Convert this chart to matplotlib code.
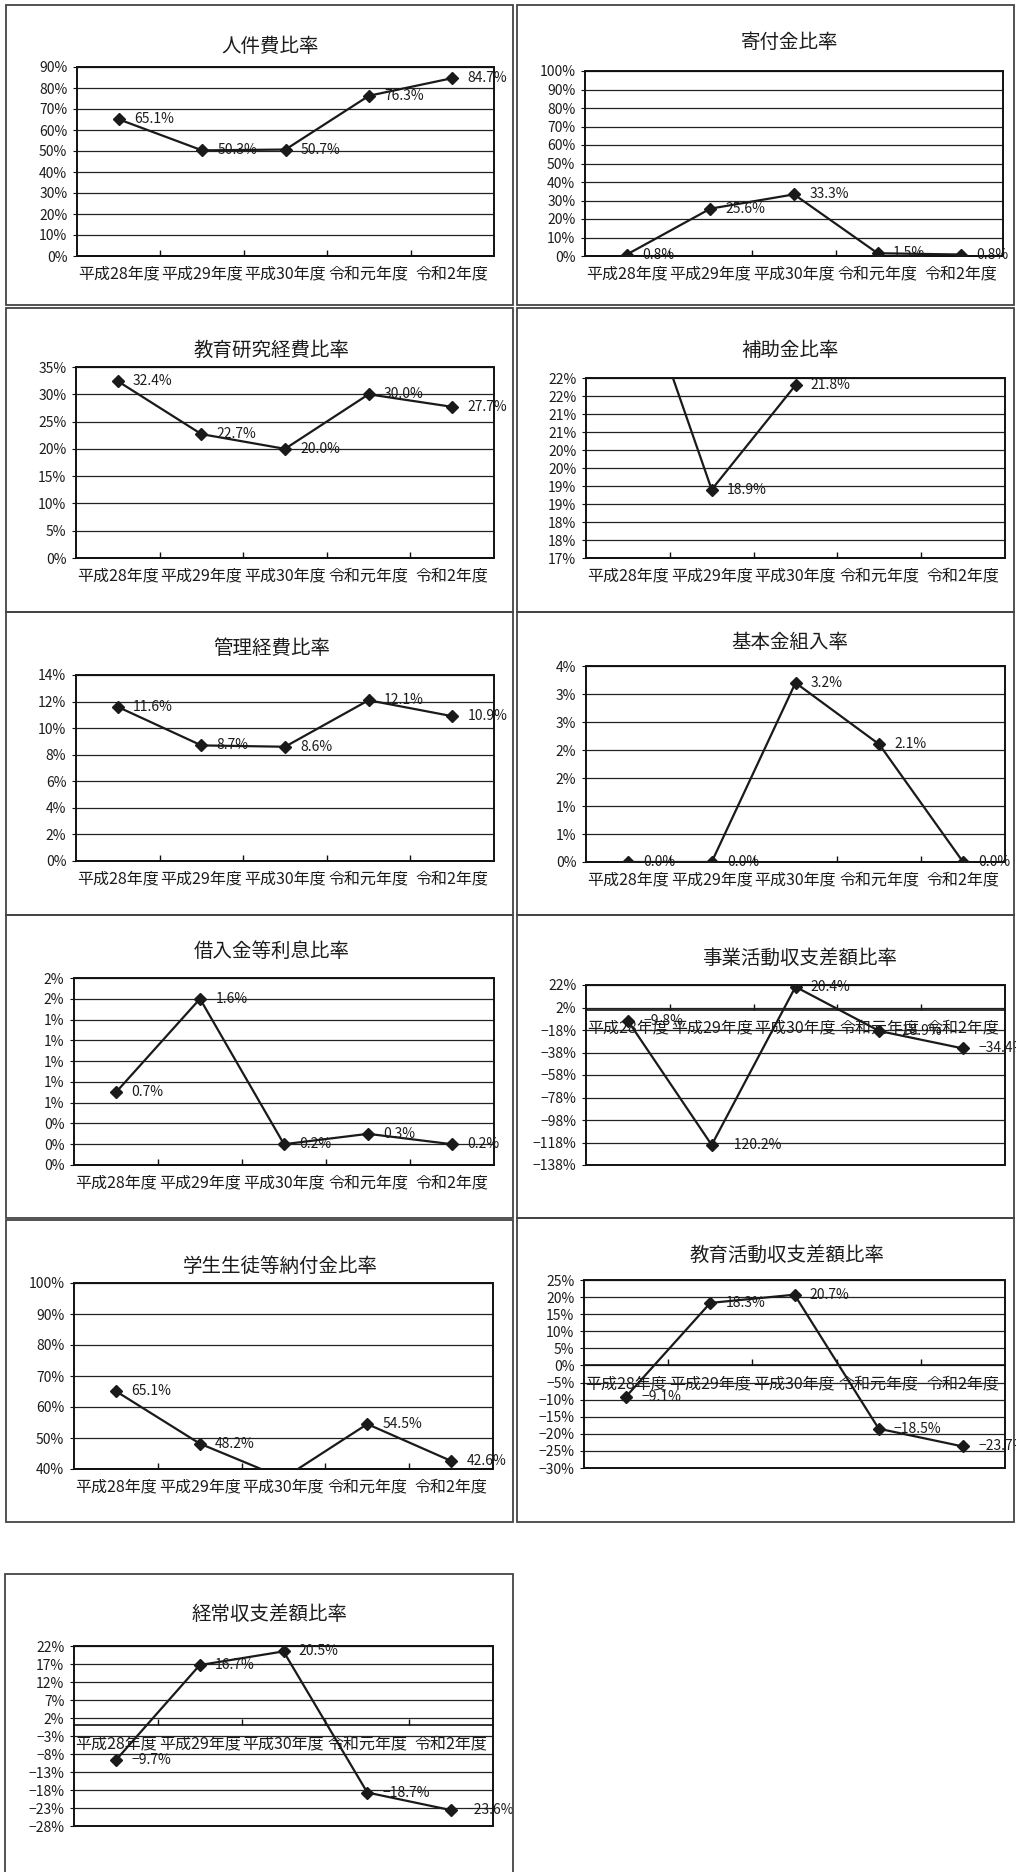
import numpy as np
import matplotlib
matplotlib.use("Agg")
import matplotlib.pyplot as plt
from matplotlib.patches import Rectangle
import math

plt.rcParams['font.family'] = ['Noto Sans CJK JP', 'DejaVu Sans']

# ---------------- data ----------------
categories = ['平成28年度', '平成29年度', '平成30年度', '令和元年度', '令和2年度']

titles = ['人件費比率', '寄付金比率', '教育研究経費比率', '補助金比率', '管理経費比率',
          '基本金組入率', '借入金等利息比率', '事業活動収支差額比率', '学生生徒等納付金比率',
          '教育活動収支差額比率', '経常収支差額比率']

jinkenhi = [65.1, 50.3, 50.7, 76.3, 84.7]
kifukin = [0.8, 25.6, 33.3, 1.5, 0.8]
kyoiku_kenkyu = [32.4, 22.7, 20.0, 30.0, 27.7]
hojokin = [25.6, 18.9, 21.8, np.nan, np.nan]
kanri = [11.6, 8.7, 8.6, 12.1, 10.9]
kihonkin = [0.0, 0.0, 3.2, 2.1, 0.0]
kariire = [0.7, 1.6, 0.2, 0.3, 0.2]
jigyo = [-9.8, -120.2, 20.4, -18.9, -34.4]
gakusei = [65.1, 48.2, 37.0, 54.5, 42.6]
kyoiku_katsudo = [-9.1, 18.3, 20.7, -18.5, -23.7]
keijo = [-9.7, 16.7, 20.5, -18.7, -23.6]

series = [jinkenhi, kifukin, kyoiku_kenkyu, hojokin, kanri, kihonkin, kariire,
          jigyo, gakusei, kyoiku_katsudo, keijo]

# y-axis (min, max, step) for each chart
y_min = [0, 0, 0, 17, 0, 0, 0, -138, 40, -30, -28]
y_max = [90, 100, 35, 22, 14, 3.5, 1.8, 22, 100, 25, 22]
y_step = [10, 10, 5, 0.5, 2, 0.5, 0.2, 20, 10, 5, 5]

# ---------------- layout (pixels) ----------------
W, H = 1016, 1872
fig = plt.figure(figsize=(W / 100, H / 100), dpi=100)
fig.patch.set_facecolor('white')

# panel boxes: (left, top, right, bottom)
panels = [
    (6, 5, 513, 305), (517, 5, 1014, 305),
    (6, 308, 513, 612), (517, 308, 1014, 612),
    (6, 612, 513, 915), (517, 612, 1014, 915),
    (6, 915, 513, 1218), (517, 915, 1014, 1218),
    (6, 1220, 513, 1522), (517, 1218, 1014, 1522),
    (5, 1574, 513, 1890),
]
# plot areas: (left, top, right, bottom)
plots = [
    (77, 67, 494, 256), (585, 71, 1003, 256),
    (76, 367, 494, 558), (586, 378, 1005, 558),
    (76, 675, 494, 861), (586, 666, 1005, 862),
    (74, 978, 494, 1165), (586, 985, 1005, 1165),
    (74, 1283, 493, 1469), (584, 1280, 1005, 1468),
    (74, 1646, 493, 1826),
]
title_pos = [
    (270, 46), (790, 43),
    (272, 350), (790, 350),
    (272, 649), (790, 642),
    (272, 951), (800, 958),
    (280, 1266), (787, 1255),
    (270, 1615),
]

INK = '#1c1c1c'


def fmt_tick(v):
    r = math.floor(v + 0.5) if v >= 0 else -math.floor(-v + 0.5)
    s = f'{r}%'
    return s.replace('-', '−')


for k in range(len(series)):
    pl, pt, pr, pb = panels[k]
    fig.patches.append(Rectangle((pl / W, 1 - pb / H), (pr - pl) / W, (pb - pt) / H,
                                 transform=fig.transFigure, fill=False,
                                 edgecolor='#444444', lw=1.3))
    l, t, r, b = plots[k]
    ax = fig.add_axes([l / W, 1 - b / H, (r - l) / W, (b - t) / H])
    x = np.arange(len(categories))
    vals = np.array(series[k], dtype=float)
    ymin, ymax, st = y_min[k], y_max[k], y_step[k]
    ax.set_xlim(-0.5, len(categories) - 0.5)
    ax.set_ylim(ymin, ymax)
    ticks = np.arange(ymin, ymax + st / 2, st)
    ax.set_yticks(ticks)
    ax.set_yticklabels([fmt_tick(v) for v in ticks], fontsize=10, color=INK)
    ax.yaxis.grid(True, color='#222222', lw=0.9)
    ax.set_axisbelow(True)

    for s in ['top', 'left', 'right']:
        ax.spines[s].set_visible(False)
    ax.add_patch(Rectangle((0, 0), 1, 1, transform=ax.transAxes, fill=False,
                           edgecolor='#111111', lw=1.4, zorder=3, clip_on=False))
    if ymin < 0 < ymax:
        ax.spines['bottom'].set_position(('data', 0))
    ax.spines['bottom'].set_color('#111111')
    ax.spines['bottom'].set_linewidth(1.2)

    ax.set_xticks(x)
    ax.set_xticklabels(categories, fontsize=11.5, color=INK)
    ax.set_xticks(np.arange(0.5, len(categories) - 1, 1), minor=True)
    ax.tick_params(axis='x', which='major', length=0, pad=7)
    ax.tick_params(axis='x', which='minor', direction='in', length=4, width=1, color='#111111')
    ax.tick_params(axis='y', which='major', direction='out', length=3, width=0.8,
                   pad=4, color='#111111')

    ax.plot(x, vals, color='#1a1a1a', lw=1.6, marker='D', ms=6.5,
            markerfacecolor='#1a1a1a', markeredgecolor='#1a1a1a', zorder=4)
    for i, v in enumerate(vals):
        if np.isnan(v) or v < ymin or v > ymax:
            continue
        ax.annotate(f'{v:.1f}%'.replace('-', '−'), (i, v), xytext=(11, 0),
                    textcoords='offset points', ha='left', va='center',
                    fontsize=10, color=INK, zorder=5)

    tx, ty = title_pos[k]
    fig.text(tx / W, 1 - ty / H, titles[k], ha='center', va='center',
             fontsize=14, color=INK)

fig.savefig('out.png', dpi=100, facecolor='white')
